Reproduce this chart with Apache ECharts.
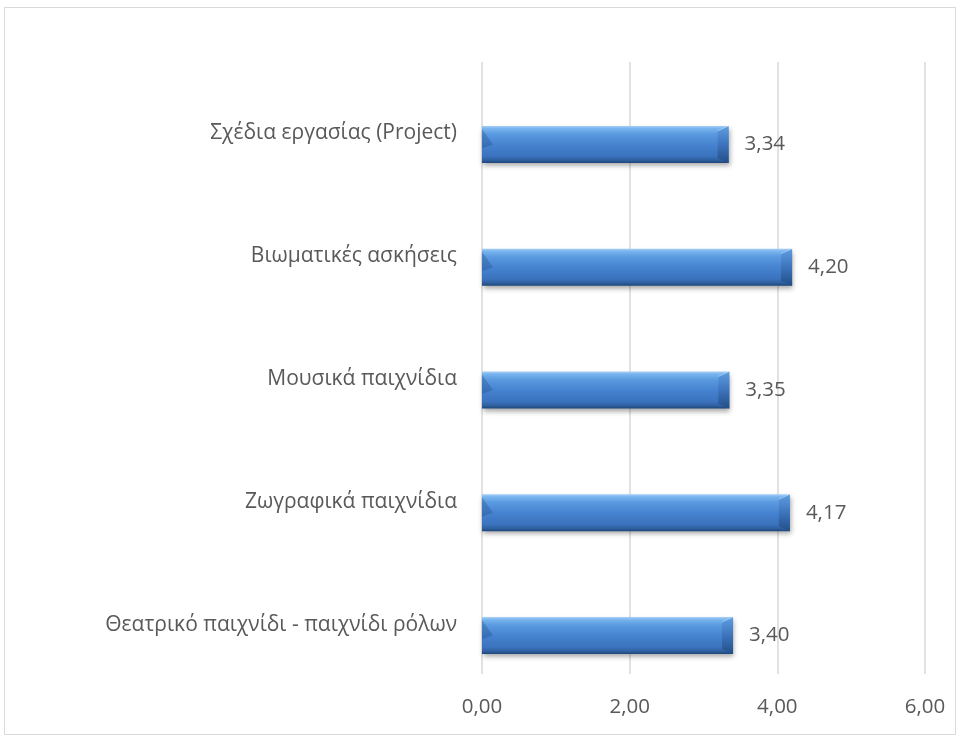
<!DOCTYPE html>
<html>
<head>
<meta charset="utf-8">
<script src="https://cdn.jsdelivr.net/npm/echarts@6/dist/echarts.min.js"></script>
<style>
  html, body { margin: 0; padding: 0; background: #ffffff; }
  #chart { width: 958px; height: 736px; }
</style>
</head>
<body>
<div id="chart"></div>
<script>
// Activity categories, listed top to bottom
const categories = [
  'Σχέδια εργασίας (Project)',
  'Βιωματικές ασκήσεις',
  'Μουσικά παιχνίδια',
  'Ζωγραφικά παιχνίδια',
  'Θεατρικό παιχνίδι - παιχνίδι ρόλων'
];
// Mean score per activity
const meanScores = [3.34, 4.20, 3.35, 4.17, 3.40];
// Value axis range and step
const axisMin = 0;
const axisMax = 6;
const axisStep = 2;

const FONT = '"Open Sans", "Noto Sans", sans-serif';
const TEXT_COLOR = '#595959';
const fmt = v => Number(v).toFixed(2).replace('.', ',');

const chart = echarts.init(document.getElementById('chart'), null, { renderer: 'canvas' });

// Vertical shading of the bevelled bar body
const barGradient = new echarts.graphic.LinearGradient(0, 0, 0, 1, [
  { offset: 0.00, color: '#a6d0f8' },
  { offset: 0.07, color: '#78b4ee' },
  { offset: 0.22, color: '#5a9ae0' },
  { offset: 0.50, color: '#4683d0' },
  { offset: 0.82, color: '#3a72bd' },
  { offset: 0.93, color: '#2e5e9d' },
  { offset: 1.00, color: '#1d4679' }
]);

const option = {
  animation: false,
  backgroundColor: '#ffffff',
  graphic: [{
    type: 'rect',
    shape: { x: 4.5, y: 7.5, width: 951, height: 727 },
    style: { fill: 'none', stroke: '#d9d9d9', lineWidth: 1 },
    silent: true,
    z: -10
  }],
  grid: [
    { left: 482, right: 33, top: 62, bottom: 62 },
    { left: 482, right: 33, top: 83, bottom: 39 }
  ],
  xAxis: [{
    gridIndex: 0,
    type: 'value',
    min: axisMin, max: axisMax, interval: axisStep,
    axisLine: { show: false },
    axisTick: { show: false },
    splitLine: { lineStyle: { color: '#d9d9d9', width: 1.5 } },
    axisLabel: { formatter: fmt, color: TEXT_COLOR, fontFamily: FONT, fontSize: 20.5, margin: 23 }
  }, {
    gridIndex: 1,
    type: 'value',
    min: axisMin, max: axisMax, interval: axisStep,
    show: false
  }],
  yAxis: [{
    gridIndex: 0,
    type: 'category',
    data: categories,
    inverse: true,
    show: false
  }, {
    gridIndex: 1,
    type: 'category',
    data: categories,
    inverse: true,
    axisLine: { show: false },
    axisTick: { show: false },
    axisLabel: {
      color: TEXT_COLOR, fontFamily: FONT, fontSize: 21, margin: 25,
      verticalAlign: 'bottom', lineHeight: 22
    }
  }],
  series: [{
    type: 'bar',
    xAxisIndex: 1,
    yAxisIndex: 1,
    data: meanScores,
    barWidth: 37,
    itemStyle: {
      color: barGradient,
      shadowColor: 'rgba(0,0,0,0.35)',
      shadowBlur: 5,
      shadowOffsetX: 1,
      shadowOffsetY: 3
    },
    label: {
      show: true,
      position: 'right',
      distance: 16,
      formatter: p => fmt(p.value),
      color: TEXT_COLOR, fontFamily: FONT, fontSize: 20.5
    },
    z: 2
  }, {
    // Bevelled end facets drawn over each bar
    type: 'custom',
    xAxisIndex: 1,
    yAxisIndex: 1,
    data: meanScores.map((v, i) => [v, i]),
    renderItem: function (params, api) {
      const end = api.coord([api.value(0), api.value(1)]);
      const start = api.coord([0, api.value(1)]);
      const h = 37;
      const y0 = end[1] - h / 2, y1 = end[1] + h / 2;
      const x0 = start[0], x1 = end[0];
      const b = 11;
      return {
        type: 'group',
        children: [{
          type: 'polygon',
          shape: { points: [[x1 - b, y0 + 5], [x1, y0], [x1, y1], [x1 - b, y1 - 5]] },
          style: {
            fill: new echarts.graphic.LinearGradient(0, 0, 0, 1, [
              { offset: 0, color: '#5f9de0' },
              { offset: 0.5, color: '#3d74bd' },
              { offset: 1, color: '#224e86' }
            ])
          }
        }, {
          type: 'polyline',
          shape: { points: [[x1 - b, y0 + 5], [x1, y0]] },
          style: { stroke: 'rgba(255,255,255,0.35)', lineWidth: 1, fill: null }
        }, {
          type: 'polygon',
          shape: { points: [[x0, y0 + 3], [x0 + b, y0 + h * 0.5], [x0, y0 + h * 0.5 + 4]] },
          style: { fill: 'rgba(30,70,130,0.3)' }
        }]
      };
    },
    z: 3,
    silent: true
  }]
};

chart.setOption(option);
</script>
</body>
</html>
